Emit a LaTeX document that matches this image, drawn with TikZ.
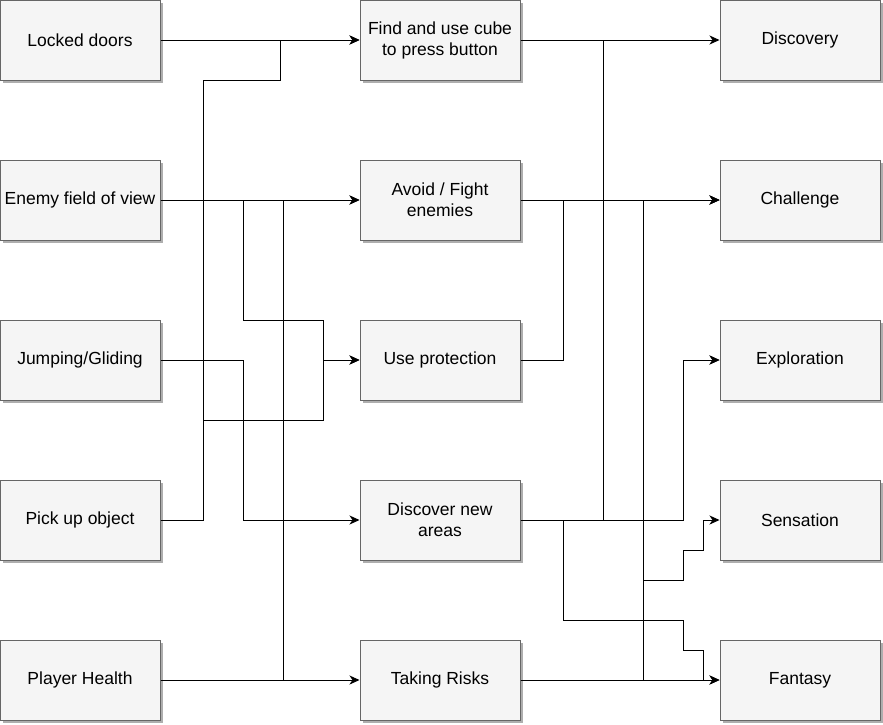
\documentclass[tikz,border=0pt]{standalone}
\usepackage{fontspec}
\setmainfont{Liberation Sans}
\usepackage{tikz}
\usetikzlibrary{arrows.meta, shadows}

\begin{document}
\begin{tikzpicture}[x=1pt, y=-1pt,
    box/.style={draw=black!60, fill=black!4, line width=1pt,
      minimum width=160pt, minimum height=80pt, align=center,
      font=\fontsize{17.5}{21}\selectfont, inner sep=1pt,
      drop shadow={shadow xshift=3pt, shadow yshift=-3pt, fill=black!45, opacity=0.7}},
    link/.style={line width=1pt, -{Stealth[length=10pt, width=9pt, inset=3pt]}}]
    \useasboundingbox (0,0) rectangle (883,724);
    \node[box] (lock) at (80,40){Locked doors};
    \node[box] (enemy) at (80,200){Enemy field of view};
    \node[box] (jump) at (80,360){Jumping/Gliding};
    \node[box] (pick) at (80,520){Pick up object};
    \node[box] (health) at (80,680){Player Health};
    \node[box] (cube) at (440,40){Find and use cube\\to press button};
    \node[box] (avoid) at (440,200){Avoid / Fight\\enemies};
    \node[box] (protect) at (440,360){Use protection};
    \node[box] (discover) at (440,520){Discover new\\areas};
    \node[box] (risks) at (440,680){Taking Risks};
    \node[box] (discovery) at (800,40){Discovery};
    \node[box] (challenge) at (800,200){Challenge};
    \node[box] (explore) at (800,360){Exploration};
    \node[box] (sensation) at (800,520){Sensation};
    \node[box] (fantasy) at (800,680){Fantasy};
    \draw[link] (lock)--(cube);
    \draw[link] (pick.east) -| (203,80) -| (280,40) -- (cube.west);
    \draw[link] (enemy)--(avoid);
    \draw[link] (enemy.east) -| (243,320) -| (323,360) -- (protect.west);
    \draw[link] (pick.east) -| (203,420) -| (323,360) -- (protect.west);
    \draw[link] (jump.east) -| (243,520) -- (discover.west);
    \draw[link] (health.east) -| (283,200) -- (avoid.west);
    \draw[link] (health)--(risks);
    \draw[link] (cube)--(discovery);
    \draw[link] (cube.east) -| (603,520) -| (683,360) -- (explore.west);
    \draw[link] (avoid)--(challenge);
    \draw[link] (protect.east) -| (563,200) -- (challenge.west);
    \draw[link] (discover.east) -| (683,360) -- (explore.west);
    \draw[link] (discover.east) -| (563,620) -| (683,650) -| (703,680) -- (fantasy.west);
    \draw[link] (risks.east) -| (643,200) -- (challenge.west);
    \draw[link] (risks.east) -| (643,580) -| (683,550) -| (703,520) -- (sensation.west);
    \draw[link] (risks)--(fantasy);
  \end{tikzpicture}
\end{document}
